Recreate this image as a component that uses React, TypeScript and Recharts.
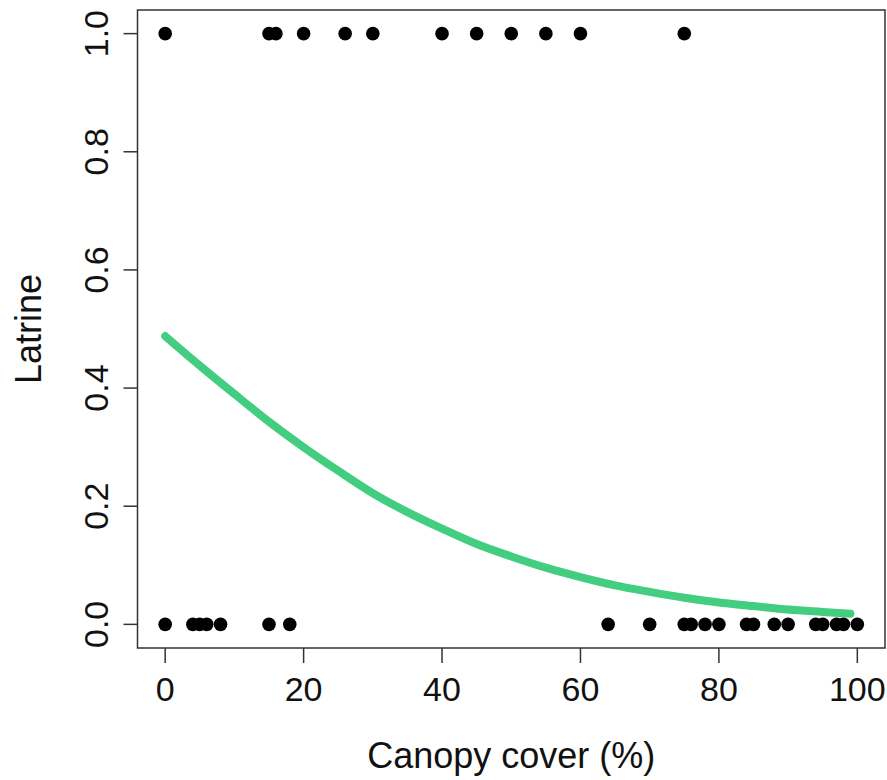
import {
  ComposedChart,
  Scatter,
  Line,
  XAxis,
  YAxis,
  ReferenceArea,
  Label,
} from "recharts";

// canopy cover (%) of sites with a latrine (1) and without (0)
const latrineX = [0, 15, 16, 20, 26, 30, 40, 45, 50, 55, 60, 75];
const noLatrineX = [
  0, 4, 5, 6, 8, 15, 18, 64, 70, 75, 76, 78, 80, 84, 85, 88, 90, 94, 95, 97,
  98, 100,
];

// fitted probability curve
const curveX = [0, 5, 10, 15, 20, 25, 30, 35, 40, 45, 50, 55, 60, 65, 70, 75, 80, 85, 90, 95, 99];
const curveY = [
  0.488, 0.438, 0.39, 0.343, 0.3, 0.26, 0.222, 0.19, 0.162, 0.136, 0.115,
  0.096, 0.08, 0.066, 0.055, 0.045, 0.037, 0.031, 0.025, 0.021, 0.018,
];

const xTicks = [0, 20, 40, 60, 80, 100];
const yTicks = [0, 0.2, 0.4, 0.6, 0.8, 1];

const FONT = "'Liberation Sans', Arial, sans-serif";
const TICK_SIZE = 34;
const TITLE_SIZE = 36;

const points = [
  ...latrineX.map((x) => ({ x, y: 1 })),
  ...noLatrineX.map((x) => ({ x, y: 0 })),
];
const curve = curveX.map((x, i) => ({ x, y: curveY[i] }));

function Dot(props: any) {
  return <circle cx={props.cx} cy={props.cy} r={6.8} fill="#000" />;
}

function YTick(props: any) {
  const { x, y, payload } = props;
  return (
    <text
      transform={`translate(${x - 16}, ${y}) rotate(-90)`}
      textAnchor="middle"
      fontSize={TICK_SIZE}
      fontFamily={FONT}
      fill="#111"
    >
      {Number(payload.value).toFixed(1)}
    </text>
  );
}

function YTitle(props: any) {
  const { y, height } = props.viewBox;
  return (
    <text
      transform={`translate(41, ${y + height / 2}) rotate(-90)`}
      textAnchor="middle"
      fontSize={TITLE_SIZE}
      fontFamily={FONT}
      fill="#111"
    >
      Latrine
    </text>
  );
}

export default function App() {
  return (
    <div
      style={{
        position: "absolute",
        left: 0,
        top: 0,
        width: 887,
        height: 780,
        background: "#fff",
        fontFamily: FONT,
      }}
    >
      <ComposedChart
        width={887}
        height={780}
        margin={{ top: 10, right: 2, left: 0, bottom: 0 }}
      >
        <XAxis
          type="number"
          dataKey="x"
          domain={[-4, 104]}
          ticks={xTicks}
          allowDataOverflow
          height={132}
          axisLine={false}
          tickSize={15}
          tickMargin={14}
          tickLine={{ stroke: "#333", strokeWidth: 1.5 }}
          tick={{ fontSize: TICK_SIZE, fill: "#111", fontFamily: FONT }}
        >
          <Label
            value="Canopy cover (%)"
            position="insideBottom"
            offset={12}
            style={{ fontSize: TITLE_SIZE, fill: "#111", fontFamily: FONT }}
          />
        </XAxis>
        <YAxis
          type="number"
          dataKey="y"
          domain={[-0.04, 1.04]}
          ticks={yTicks}
          allowDataOverflow
          width={137.5}
          axisLine={false}
          tickSize={14}
          tickMargin={0}
          tickLine={{ stroke: "#333", strokeWidth: 1.5 }}
          tick={<YTick />}
        >
          <Label content={<YTitle />} />
        </YAxis>
        <ReferenceArea
          x1={-4}
          x2={104}
          y1={-0.04}
          y2={1.04}
          fill="none"
          stroke="#333"
          strokeWidth={1.5}
        />
        <Scatter data={points} shape={<Dot />} isAnimationActive={false} />
        <Line
          data={curve}
          dataKey="y"
          type="monotone"
          stroke="#43CD80"
          strokeWidth={8}
          strokeLinecap="round"
          dot={false}
          activeDot={false}
          isAnimationActive={false}
        />
      </ComposedChart>
    </div>
  );
}
